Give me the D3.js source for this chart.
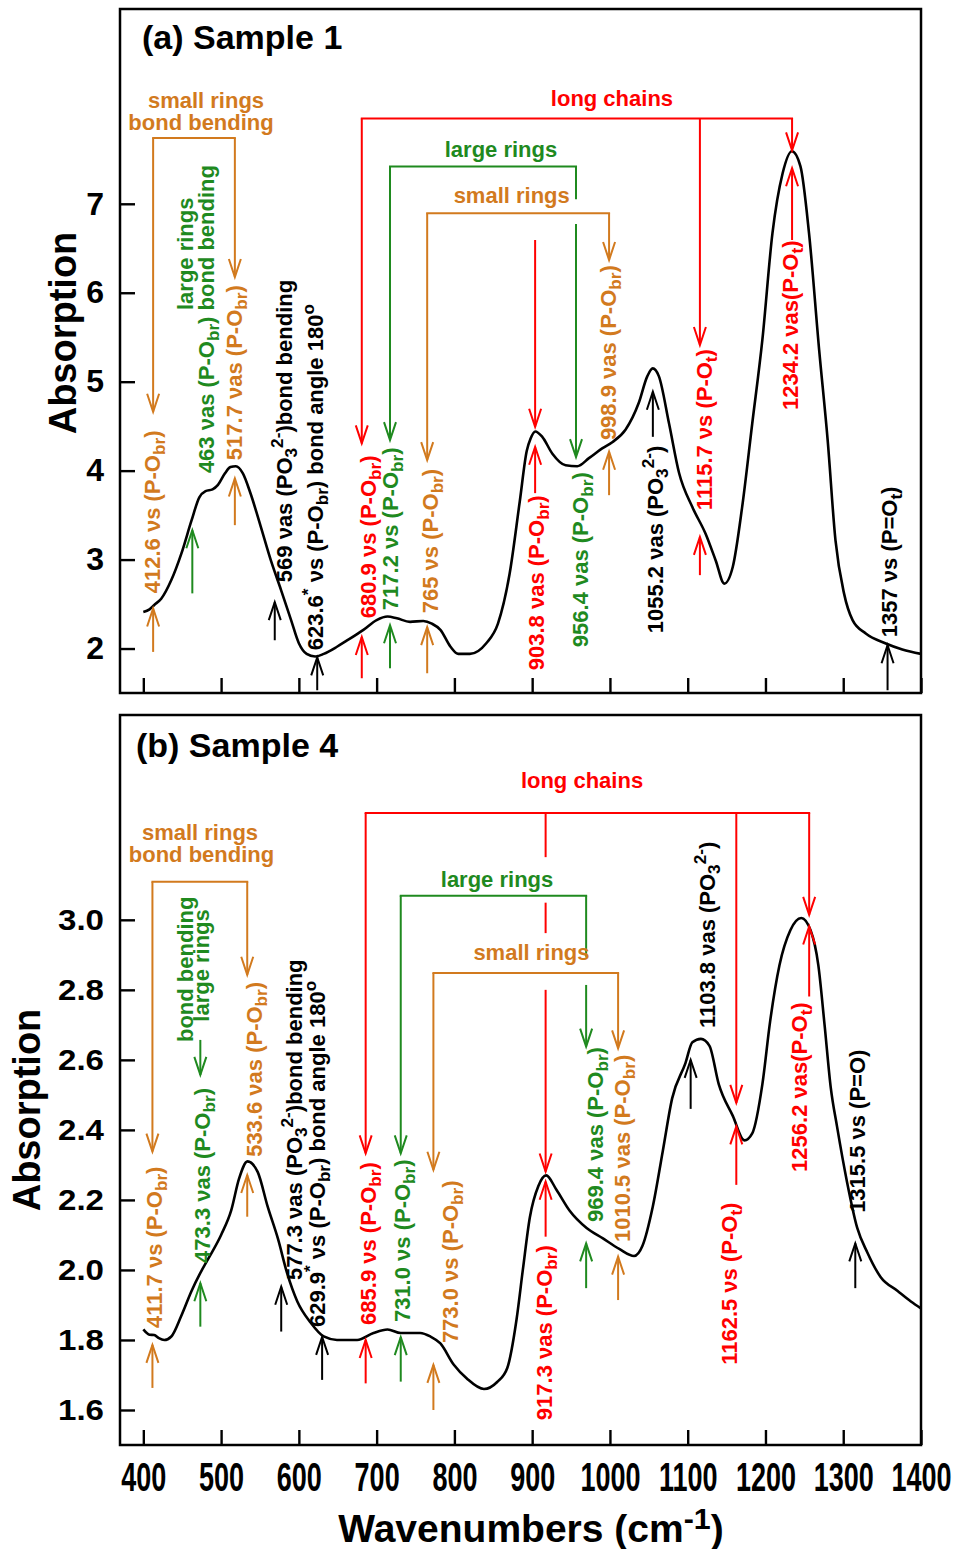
<!DOCTYPE html>
<html>
<head>
<meta charset="utf-8">
<script src="https://cdn.jsdelivr.net/npm/d3@7"></script>
<style>
  html, body { margin: 0; padding: 0; background: #fff; }
  svg { display: block; font-family: "Liberation Sans", Arial, Helvetica, sans-serif; font-weight: bold; }
  text { white-space: pre; }
</style>
</head>
<body>
<svg id="chart" width="957" height="1549"></svg>
<script>
// ---------- spectra ----------
const wavenumbersS1 = [400,408,414,423,436,449,462,472,480,489,496,505,512,519,528,538,551,564,577,590,600,610,621,632,649,660,683,700,714,726,743,760,771,782,795,805,820,841,856,871,884,893,898,904,913,926,943,958,973,990,1003,1020,1037,1048,1055,1063,1076,1089,1106,1123,1136,1147,1158,1170,1183,1196,1209,1222,1234,1245,1256,1269,1280,1290,1301,1312,1329,1354,1376,1400];
const absorptionS1 = [2.41,2.44,2.49,2.56,2.77,3.07,3.44,3.70,3.77,3.79,3.84,3.97,4.04,4.05,3.97,3.74,3.37,2.99,2.66,2.32,2.06,1.94,1.91,1.94,2.02,2.08,2.21,2.32,2.36,2.34,2.30,2.31,2.28,2.21,2.02,1.94,1.94,2.06,2.28,2.84,3.65,4.22,4.36,4.44,4.38,4.19,4.06,4.05,4.14,4.25,4.32,4.46,4.76,5.06,5.15,5.06,4.53,3.97,3.59,3.29,2.99,2.73,2.92,3.59,4.53,5.47,6.67,7.34,7.59,7.42,6.67,5.36,4.34,3.22,2.62,2.32,2.17,2.06,1.99,1.94];

const wavenumbersS4 = [400,408,414,420,427,436,449,462,473,483,500,513,523,534,547,560,573,585,598,615,632,649,675,696,714,731,756,769,782,799,816,838,855,868,880,888,897,908,918,931,948,970,991,1012,1031,1042,1055,1068,1080,1097,1106,1117,1128,1140,1158,1173,1183,1196,1206,1218,1232,1246,1258,1268,1276,1284,1292,1305,1318,1331,1348,1370,1387,1400];
const absorptionS4 = [1.83,1.815,1.814,1.805,1.80,1.81,1.87,1.94,1.99,2.03,2.10,2.17,2.26,2.31,2.28,2.18,2.09,1.99,1.91,1.85,1.81,1.80,1.80,1.82,1.83,1.82,1.82,1.81,1.79,1.73,1.69,1.66,1.68,1.72,1.86,2.00,2.15,2.24,2.27,2.23,2.17,2.12,2.09,2.06,2.04,2.07,2.18,2.34,2.49,2.59,2.65,2.66,2.64,2.53,2.44,2.37,2.39,2.53,2.71,2.87,2.97,3.005,2.97,2.87,2.70,2.52,2.41,2.25,2.12,2.05,1.98,1.94,1.91,1.89];

// ---------- axes ----------
const xDomain = [370, 1400];
const xTicks = [400, 500, 600, 700, 800, 900, 1000, 1100, 1200, 1300, 1400];
const yDomainS1 = [1.5, 9.19];
const yTicksS1 = [2, 3, 4, 5, 6, 7];
const yDomainS4 = [1.5, 3.585];
const yTicksS4 = [1.6, 1.8, 2.0, 2.2, 2.4, 2.6, 2.8, 3.0];

// ---------- annotations, sample 1 (wavenumber, absorption) ----------
const bracketBarsS1 = [
  { from: 412.6, to: 517.7, level: 7.740, color: "orange" },
  { from: 680.9, to: 1234.2, level: 7.960, color: "red" },
  { from: 717.2, to: 956.4, level: 7.418, color: "green" },
  { from: 765.0, to: 998.9, level: 6.893, color: "orange" }
];
const bracketLegsS1 = [
  { w: 412.6, from: 7.740, to: 4.662, color: "orange", head: true },
  { w: 517.7, from: 7.740, to: 6.177, color: "orange", head: true },
  { w: 680.9, from: 7.960, to: 4.306, color: "red", head: true },
  { w: 1115.7, from: 7.960, to: 5.412, color: "red", head: true },
  { w: 1234.2, from: 7.960, to: 7.600, color: "red", head: true },
  { w: 903.8, from: 6.593, to: 4.493, color: "red", head: true },
  { w: 717.2, from: 7.418, to: 4.343, color: "green", head: true },
  { w: 956.4, from: 7.418, to: 7.051, color: "green", head: false },
  { w: 956.4, from: 6.773, to: 4.152, color: "green", head: true },
  { w: 765.0, from: 6.893, to: 4.118, color: "orange", head: true },
  { w: 998.9, from: 6.893, to: 6.368, color: "orange", head: true }
];
const upArrowsS1 = [
  { w: 412.6, from: 1.962, to: 2.450, color: "orange" },
  { w: 463.0, from: 2.620, to: 3.330, color: "green" },
  { w: 517.7, from: 3.387, to: 3.912, color: "orange" },
  { w: 569.0, from: 2.093, to: 2.521, color: "black" },
  { w: 623.6, from: 1.531, to: 1.900, color: "black" },
  { w: 680.9, from: 1.666, to: 2.130, color: "red" },
  { w: 717.2, from: 1.778, to: 2.262, color: "green" },
  { w: 765.0, from: 1.722, to: 2.240, color: "orange" },
  { w: 903.8, from: 3.747, to: 4.268, color: "red" },
  { w: 998.9, from: 3.724, to: 4.212, color: "orange" },
  { w: 1055.2, from: 4.380, to: 4.887, color: "black" },
  { w: 1115.7, from: 2.825, to: 3.255, color: "red" },
  { w: 1234.2, from: 6.593, to: 7.400, color: "red" },
  { w: 1357.0, from: 1.531, to: 2.037, color: "black" }
];
const peakLabelsS1 = [
  { text: "412.6 νs (P-O_{br})", color: "orange", w: 421.4, v: 2.622 },
  { text: "463 νas (P-O_{br}) bond bending", color: "green", w: 490.9, v: 3.972 },
  { text: "large rings", color: "green", w: 464.5, v: 5.806 },
  { text: "517.7 νas (P-O_{br})", color: "orange", w: 526.9, v: 4.118 },
  { text: "569 νas (PO_{3}^{2-})bond bending", color: "black", w: 591.2, v: 2.746 },
  { text: "623.6^{*} νs (P-O_{br}) bond angle 180^{o}", color: "black", w: 631.0, v: 1.981 },
  { text: "680.9 νs (P-O_{br})", color: "red", w: 699.2, v: 2.341 },
  { text: "717.2 νs (P-O_{br})", color: "green", w: 727.5, v: 2.431 },
  { text: "765 νs (P-O_{br})", color: "orange", w: 778.9, v: 2.397 },
  { text: "903.8 νas (P-O_{br})", color: "red", w: 915.2, v: 1.756 },
  { text: "956.4 νas (P-O_{br})", color: "green", w: 971.8, v: 2.015 },
  { text: "998.9 νas (P-O_{br})", color: "orange", w: 1007.8, v: 4.343 },
  { text: "1055.2 νas (PO_{3}^{2-})", color: "black", w: 1068.2, v: 2.172 },
  { text: "1115.7 νs (P-O_{t})", color: "red", w: 1131.2, v: 3.556 },
  { text: "1234.2 νas(P-O_{t})", color: "red", w: 1241.8, v: 4.681 },
  { text: "1357 νs (P=O_{t})", color: "black", w: 1369.1, v: 2.127 }
];
const groupLabelsS1 = [
  { text: "small rings", color: "orange", w: 480.6, v: 8.078 },
  { text: "bond bending", color: "orange", w: 474.2, v: 7.830 },
  { text: "long chains", color: "red", w: 1002.6, v: 8.100 },
  { text: "large rings", color: "green", w: 859.9, v: 7.527 },
  { text: "small rings", color: "orange", w: 873.7, v: 7.009 }
];

// ---------- annotations, sample 4 ----------
const bracketBarsS4 = [
  { from: 411.7, to: 533.6, level: 3.109, color: "orange" },
  { from: 685.9, to: 1256.2, level: 3.305, color: "red" },
  { from: 731.0, to: 969.4, level: 3.069, color: "green" },
  { from: 773.0, to: 1010.5, level: 2.848, color: "orange" }
];
const bracketLegsS4 = [
  { w: 411.7, from: 3.109, to: 2.338, color: "orange", head: true },
  { w: 533.6, from: 3.109, to: 2.843, color: "orange", head: true },
  { w: 473.3, from: 2.657, to: 2.557, color: "green", head: true },
  { w: 685.9, from: 3.305, to: 2.333, color: "red", head: true },
  { w: 917.3, from: 3.305, to: 3.179, color: "red", head: false },
  { w: 917.3, from: 3.049, to: 2.962, color: "red", head: false },
  { w: 917.3, from: 2.800, to: 2.281, color: "red", head: true },
  { w: 1162.5, from: 3.305, to: 2.477, color: "red", head: true },
  { w: 1256.2, from: 3.305, to: 3.014, color: "red", head: true },
  { w: 731.0, from: 3.069, to: 2.333, color: "green", head: true },
  { w: 969.4, from: 3.069, to: 2.895, color: "green", head: false },
  { w: 969.4, from: 2.814, to: 2.638, color: "green", head: true },
  { w: 773.0, from: 2.848, to: 2.286, color: "orange", head: true },
  { w: 1010.5, from: 2.848, to: 2.633, color: "orange", head: true }
];
const upArrowsS4 = [
  { w: 411.7, from: 1.663, to: 1.786, color: "orange" },
  { w: 473.3, from: 1.838, to: 1.962, color: "green" },
  { w: 533.6, from: 2.152, to: 2.271, color: "orange" },
  { w: 577.3, from: 1.824, to: 1.952, color: "black" },
  { w: 629.9, from: 1.686, to: 1.809, color: "black" },
  { w: 685.9, from: 1.676, to: 1.800, color: "red" },
  { w: 731.0, from: 1.681, to: 1.808, color: "green" },
  { w: 773.0, from: 1.600, to: 1.729, color: "orange" },
  { w: 917.3, from: 2.095, to: 2.252, color: "red" },
  { w: 969.4, from: 1.948, to: 2.076, color: "green" },
  { w: 1010.5, from: 1.914, to: 2.038, color: "orange" },
  { w: 1103.8, from: 2.460, to: 2.600, color: "black" },
  { w: 1162.5, from: 2.243, to: 2.410, color: "red" },
  { w: 1256.2, from: 2.781, to: 2.981, color: "red" },
  { w: 1315.5, from: 1.948, to: 2.076, color: "black" }
];
const peakLabelsS4 = [
  { text: "411.7 νs (P-O_{br})", color: "orange", w: 424.0, v: 1.834 },
  { text: "473.3 νas (P-O_{br})", color: "green", w: 485.7, v: 2.020 },
  { text: "bond bending", color: "green", w: 463.9, v: 2.651 },
  { text: "large rings", color: "green", w: 484.4, v: 2.709 },
  { text: "533.6 νas (P-O_{br})", color: "orange", w: 552.6, v: 2.323 },
  { text: "577.3 νas (PO_{3}^{2-})bond bending", color: "black", w: 604.0, v: 1.971 },
  { text: "629.9^{*} νs (P-O_{br}) bond angle 180^{o}", color: "black", w: 633.6, v: 1.837 },
  { text: "685.9 νs (P-O_{br})", color: "red", w: 699.2, v: 1.843 },
  { text: "731.0 νs (P-O_{br})", color: "green", w: 742.9, v: 1.851 },
  { text: "773.0 νs (P-O_{br})", color: "orange", w: 804.6, v: 1.791 },
  { text: "917.3 νas (P-O_{br})", color: "red", w: 925.5, v: 1.571 },
  { text: "969.4 νas (P-O_{br})", color: "green", w: 991.1, v: 2.137 },
  { text: "1010.5 νas (P-O_{br})", color: "orange", w: 1025.8, v: 2.080 },
  { text: "1103.8 νas (PO_{3}^{2-})", color: "black", w: 1135.1, v: 2.691 },
  { text: "1162.5 νs (P-O_{t})", color: "red", w: 1163.4, v: 1.729 },
  { text: "1256.2 νas(P-O_{t})", color: "red", w: 1253.4, v: 2.280 },
  { text: "1315.5 νs (P=O)", color: "black", w: 1328.0, v: 2.163 }
];
const groupLabelsS4 = [
  { text: "small rings", color: "orange", w: 472.9, v: 3.229 },
  { text: "bond bending", color: "orange", w: 474.8, v: 3.166 },
  { text: "long chains", color: "red", w: 964.1, v: 3.377 },
  { text: "large rings", color: "green", w: 854.8, v: 3.095 },
  { text: "small rings", color: "orange", w: 899.1, v: 2.886 }
];

// ---------- drawing ----------
const colorOf = { orange: "#d27a1e", green: "#1f8a1f", red: "#ff0000", black: "#000000" };
const svg = d3.select("#chart");
svg.append("rect").attr("width", 957).attr("height", 1549).attr("fill", "#fff");

const x = d3.scaleLinear().domain(xDomain).range([120, 921]);

// Text with _{sub} and ^{sup} runs
function richText(textSel, str, fs, supShift = 0.4) {
  const re = /([_^])\{([^}]*)\}/g;
  const parts = [];
  let last = 0, m;
  while ((m = re.exec(str))) {
    if (m.index > last) parts.push({ t: str.slice(last, m.index), k: "n" });
    parts.push({ t: m[2], k: m[1] === "_" ? "sub" : "sup" });
    last = re.lastIndex;
  }
  if (last < str.length) parts.push({ t: str.slice(last), k: "n" });
  let cur = 0;
  parts.forEach(p => {
    const shift = p.k === "sub" ? 0.24 * fs : p.k === "sup" ? -supShift * fs : 0;
    textSel.append("tspan")
      .attr("dy", shift - cur)
      .attr("font-size", p.k === "n" ? fs : 0.78 * fs)
      .text(p.t);
    cur = shift;
  });
}

function drawPanel(p) {
  const y = d3.scaleLinear().domain(p.yDomain).range([p.bottom, p.top]);
  const g = svg.append("g");

  // axes with inward ticks
  const gx = g.append("g").attr("transform", `translate(0,${p.bottom})`)
    .call(d3.axisBottom(x).tickValues(xTicks).tickSizeInner(-15).tickSizeOuter(0)
      .tickFormat(p.xLabels ? d3.format("d") : ""));
  gx.select(".domain").remove();
  gx.selectAll(".tick line").attr("stroke", "#000").attr("stroke-width", 2.4);
  // tall, narrow tick numerals
  gx.selectAll(".tick text")
    .attr("y", 0).attr("dy", 0)
    .attr("transform", "translate(0,46) scale(0.9,1.33)")
    .style("font-size", "30px").style("font-weight", "bold")
    .style("font-family", "'Liberation Sans', Arial, sans-serif").attr("fill", "#000");

  const gy = g.append("g").attr("transform", "translate(120,0)")
    .call(d3.axisLeft(y).tickValues(p.yTicks).tickSizeInner(-15).tickSizeOuter(0)
      .tickPadding(16).tickFormat(d3.format(p.yFormat)));
  gy.select(".domain").remove();
  gy.selectAll(".tick line").attr("stroke", "#000").attr("stroke-width", 2.4);
  const yt = gy.selectAll(".tick text")
    .style("font-size", p.yFont + "px").style("font-weight", "bold")
    .style("font-family", "'Liberation Sans', Arial, sans-serif").attr("fill", "#000");
  if (p.yLabelWidth) yt.attr("textLength", p.yLabelWidth).attr("lengthAdjust", "spacingAndGlyphs");

  // frame
  g.append("rect").attr("x", 120).attr("y", p.top)
    .attr("width", 921 - 120).attr("height", p.bottom - p.top)
    .attr("fill", "none").attr("stroke", "#000").attr("stroke-width", 2.5);

  // spectrum
  g.append("path").datum(d3.zip(p.wn, p.ab))
    .attr("d", d3.line().x(d => x(d[0])).y(d => y(d[1])).curve(d3.curveMonotoneX))
    .attr("fill", "none").attr("stroke", "#000").attr("stroke-width", 2.6)
    .attr("stroke-linejoin", "round");

  // bracket bars
  g.append("g").selectAll("line").data(p.bars).join("line")
    .attr("x1", d => x(d.from)).attr("x2", d => x(d.to))
    .attr("y1", d => y(d.level)).attr("y2", d => y(d.level))
    .attr("stroke", d => colorOf[d.color]).attr("stroke-width", 2)
    .attr("stroke-linecap", "square");

  // vertical arrows (bracket legs and up arrows)
  const arrows = p.legs.concat(p.ups.map(a => Object.assign({ head: true }, a)));
  const ag = g.append("g").attr("fill", "none").attr("stroke-width", 2);
  arrows.forEach(a => {
    const X = x(a.w), Y0 = y(a.from), Y1 = y(a.to);
    const c = colorOf[a.color];
    ag.append("line").attr("x1", X).attr("x2", X).attr("y1", Y0).attr("y2", Y1).attr("stroke", c);
    if (a.head) {
      const s = Y1 < Y0 ? 1 : -1;
      ag.append("path")
        .attr("d", `M${X - 6},${Y1 + s * 18}L${X},${Y1}L${X + 6},${Y1 + s * 18}`)
        .attr("stroke", c).attr("stroke-linejoin", "miter");
    }
  });

  // rotated peak labels
  p.peaks.forEach(l => {
    const t = g.append("text")
      .attr("transform", `translate(${x(l.w)},${y(l.v)}) rotate(-90)`)
      .attr("fill", colorOf[l.color]).attr("font-size", 22);
    richText(t, l.text, 22);
  });

  // horizontal group labels
  g.append("g").selectAll("text").data(p.groups).join("text")
    .attr("x", d => x(d.w)).attr("y", d => y(d.v))
    .attr("text-anchor", "middle").attr("font-size", 22)
    .attr("fill", d => colorOf[d.color]).text(d => d.text);

  // panel title
  g.append("text").attr("x", p.titleX).attr("y", p.titleY)
    .attr("font-size", 34).attr("fill", "#000").text(p.title);

  // y-axis title
  g.append("text")
    .attr("transform", `translate(${p.yTitleX},${p.yTitleY}) rotate(-90)`)
    .attr("text-anchor", "middle").attr("font-size", 38).attr("fill", "#000")
    .text("Absorption");
}

drawPanel({
  top: 9, bottom: 693, yDomain: yDomainS1, yTicks: yTicksS1, yFormat: "d", yFont: 32,
  wn: wavenumbersS1, ab: absorptionS1,
  bars: bracketBarsS1, legs: bracketLegsS1, ups: upArrowsS1,
  peaks: peakLabelsS1, groups: groupLabelsS1,
  title: "(a) Sample 1", titleX: 142, titleY: 49,
  yTitleX: 76, yTitleY: 333, xLabels: false
});

drawPanel({
  top: 715, bottom: 1445, yDomain: yDomainS4, yTicks: yTicksS4, yFormat: ".1f", yFont: 29,
  yLabelWidth: 46,
  wn: wavenumbersS4, ab: absorptionS4,
  bars: bracketBarsS4, legs: bracketLegsS4, ups: upArrowsS4,
  peaks: peakLabelsS4, groups: groupLabelsS4,
  title: "(b) Sample 4", titleX: 136, titleY: 757,
  yTitleX: 40, yTitleY: 1110, xLabels: true
});

// x-axis title
const xt = svg.append("text").attr("x", 531).attr("y", 1542)
  .attr("text-anchor", "middle").attr("font-size", 39).attr("fill", "#000");
richText(xt, "Wavenumbers (cm^{-1})", 39, 0.33);
</script>
</body>
</html>
